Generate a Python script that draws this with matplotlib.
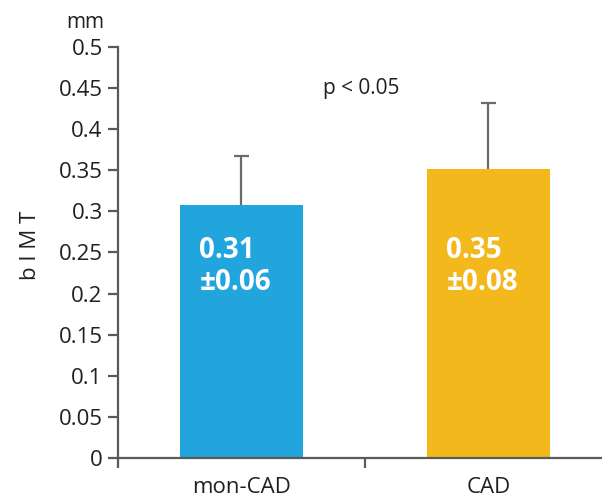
import matplotlib
matplotlib.use("Agg")
from matplotlib import pyplot as plt
import numpy as np

# data
groups = ["mon-CAD", "CAD"]
means = [0.308, 0.352]      # bar heights (mm)
sds = [0.06, 0.08]          # upper error only
bar_texts = ["0.31\n\u00b10.06", "0.35\n\u00b10.08"]
yticks = [0, 0.05, 0.1, 0.15, 0.2, 0.25, 0.3, 0.35, 0.4, 0.45, 0.5]
ytick_labels = ["0", "0.05", "0.1", "0.15", "0.2", "0.25", "0.3", "0.35", "0.4", "0.45", "0.5"]
colors = ["#22a4dd", "#f2b81c"]

plt.rcParams['font.family'] = ['Open Sans', 'DejaVu Sans']
axis_col = "#5a5a5a"
txt_col = "#231f20"

fig = plt.figure(figsize=(6.02, 5.01), dpi=100)
# axes placed by pixel: left spine x=118, y0 at 458, y0.5 at 47
ax = fig.add_axes([118/602, (501-458)/501, (602-118)/602, (458-47)/501])

x = np.arange(len(groups))
tops = np.array(means) + np.array(sds)
# upper error bar only: stem + top cap, drawn behind bars
ax.vlines(x, means, tops, color="#6b6b6b", lw=1.6, zorder=1)
ax.hlines(tops, x - 0.03, x + 0.03, color="#6b6b6b", lw=1.6, zorder=1)
ax.bar(x, means, width=0.5, color=colors, zorder=2)

for i, t in enumerate(bar_texts):
    ax.text(x[i] - 0.17, 0.233, t, color="white", fontsize=20, fontweight="bold",
            ha="left", va="center", linespacing=1.15)

ax.set_xlim(-0.5, 1.46)
ax.set_ylim(0, 0.5)
ax.set_yticks(yticks)
ax.set_yticklabels(ytick_labels, fontsize=16, color=txt_col)

# category ticks sit at the boundaries, labels at centres
ax.set_xticks([-0.5, 0.5])
ax.set_xticklabels([])
ax.set_xticks(x, minor=True)
ax.set_xticklabels(groups, minor=True, fontsize=16, color=txt_col)
ax.tick_params(axis="x", which="minor", length=0, pad=14)
ax.tick_params(axis="x", which="major", length=7, width=1.6, color=axis_col)
ax.tick_params(axis="y", length=7, width=1.6, color=axis_col, pad=4)

for s in ["top", "right"]:
    ax.spines[s].set_visible(False)
for s in ["left", "bottom"]:
    ax.spines[s].set_color(axis_col)
    ax.spines[s].set_linewidth(1.6)

ax.text(0.484, 0.45, "p < 0.05", fontsize=15, ha="center", va="center", color=txt_col)
fig.text(85/602, 1 - 22/501, "mm", fontsize=15, ha="center", va="center", color=txt_col)
fig.text(30/602, 1 - 245/501, "b I M T", fontsize=16, rotation=90, ha="center", va="center", color=txt_col)

fig.savefig("out.png", dpi=100)
